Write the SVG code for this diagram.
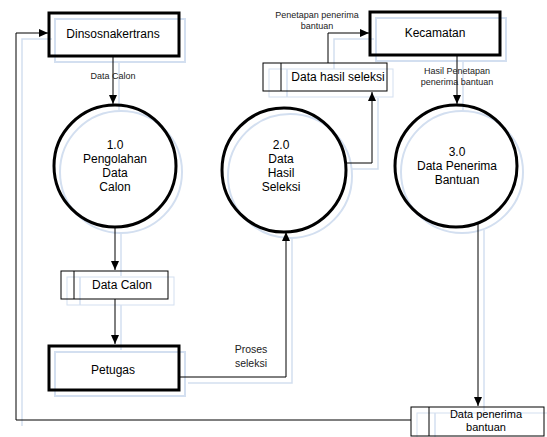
<svg xmlns="http://www.w3.org/2000/svg" width="547" height="437" viewBox="0 0 547 437">
<defs>
<marker id="ah" markerWidth="10" markerHeight="8" refX="9" refY="4" orient="auto" markerUnits="userSpaceOnUse">
<path d="M0,0 L9,4 L0,8 Z" fill="#000"/>
</marker>
</defs>
<style>
text{font-family:"Liberation Sans",Arial,sans-serif;text-anchor:middle;fill:#000}
.big{font-size:12px}
.sm{font-size:11px}
.lbl{font-size:9px;fill:#222}
.ent{fill:none;stroke:#000;stroke-width:3}
.proc{fill:none;stroke:#000;stroke-width:3}
.store{fill:none;stroke:#000;stroke-width:1}
.flow{fill:none;stroke:#000;stroke-width:1;marker-end:url(#ah)}
.line{fill:none;stroke:#000;stroke-width:1}
.g rect,.g circle{fill:none;stroke:#d3dff0;stroke-width:2}
.g .thin{stroke-width:1}
.g path{fill:none;stroke:#d3dff0;stroke-width:1.5}
</style>
<rect width="547" height="437" fill="#fff"/>

<g id="shadow" class="g" transform="translate(6,6)">
<rect x="49" y="13" width="130" height="43"/>
<rect x="370" y="12" width="130" height="43"/>
<rect x="49" y="346" width="130" height="44"/>
<circle cx="115" cy="166" r="61"/>
<circle cx="284" cy="170" r="62"/>
<circle cx="456" cy="166" r="61"/>
<rect class="thin" x="61" y="271" width="107" height="28"/>
<path d="M74,271 V299"/>
<rect class="thin" x="263" y="63" width="124" height="28"/>
<path d="M281,63 V91"/>
<rect class="thin" x="411" y="407" width="133" height="30"/>
<path d="M429,407 V437"/>
<path d="M16,420 V33 H46"/>
<path d="M113,56 V104"/>
<path d="M115,228 V270"/>
<path d="M115,299 V344"/>
<path d="M182,377 H286 V232"/>
<path d="M346,163 H372 V92"/>
<path d="M328,63 V33 H368"/>
<path d="M457,55 V104"/>
<path d="M478,224 V405"/>
</g>

<g id="connectors">
<path class="flow" d="M411,420 H16 V33 H48"/>
<path class="flow" d="M113,56 V104"/>
<text class="lbl" x="113" y="79">Data Calon</text>
<path class="flow" d="M115,228 V270"/>
<path class="flow" d="M115,299 V344"/>
<path class="flow" d="M180,377 H286 V232"/>
<text class="lbl" x="251" y="353" style="font-size:10.5px">Proses</text>
<text class="lbl" x="251" y="367" style="font-size:10.5px">seleksi</text>
<path class="flow" d="M346,163 H372 V92"/>
<path class="flow" d="M328,63 V33 H369"/>
<text class="lbl" x="317" y="18">Penetapan penerima</text>
<text class="lbl" x="317" y="29">bantuan</text>
<path class="flow" d="M457,55 V104"/>
<text class="lbl" x="457" y="74">Hasil Penetapan</text>
<text class="lbl" x="457" y="85">penerima bantuan</text>
<path class="flow" d="M478,224 V406"/>
</g>

<g id="dinsosnakertrans">
<rect class="ent" x="49" y="13" width="130" height="43"/>
<text class="big" x="113" y="38">Dinsosnakertrans</text>
</g>
<g id="kecamatan">
<rect class="ent" x="370" y="12" width="130" height="43"/>
<text class="big" x="435" y="37">Kecamatan</text>
</g>
<g id="petugas">
<rect class="ent" x="49" y="346" width="130" height="44"/>
<text class="big" x="113" y="374">Petugas</text>
</g>
<g id="p1">
<circle class="proc" cx="115" cy="166" r="61"/>
<text class="big" x="115" y="149">1.0</text>
<text class="big" x="115" y="163">Pengolahan</text>
<text class="big" x="115" y="177">Data</text>
<text class="big" x="115" y="191">Calon</text>
</g>
<g id="p2">
<circle class="proc" cx="284" cy="170" r="62"/>
<text class="big" x="281" y="149">2.0</text>
<text class="big" x="281" y="163">Data</text>
<text class="big" x="281" y="177">Hasil</text>
<text class="big" x="281" y="191">Seleksi</text>
</g>
<g id="p3">
<circle class="proc" cx="456" cy="166" r="61"/>
<text class="big" x="457" y="156">3.0</text>
<text class="big" x="457" y="170">Data Penerima</text>
<text class="big" x="457" y="184">Bantuan</text>
</g>
<g id="ds-calon">
<rect class="store" x="61" y="271" width="107" height="28"/>
<line class="line" x1="74" y1="271" x2="74" y2="299"/>
<text class="big" x="122" y="289">Data Calon</text>
</g>
<g id="ds-hasil">
<rect class="store" x="263" y="63" width="124" height="28"/>
<line class="line" x1="281" y1="63" x2="281" y2="91"/>
<text class="big" x="338" y="81">Data hasil seleksi</text>
</g>
<g id="ds-penerima">
<rect class="store" x="411" y="407" width="133" height="29"/>
<line class="line" x1="429" y1="407" x2="429" y2="436"/>
<text class="sm" x="486" y="418">Data penerima</text>
<text class="sm" x="486" y="431">bantuan</text>
</g>
</svg>
